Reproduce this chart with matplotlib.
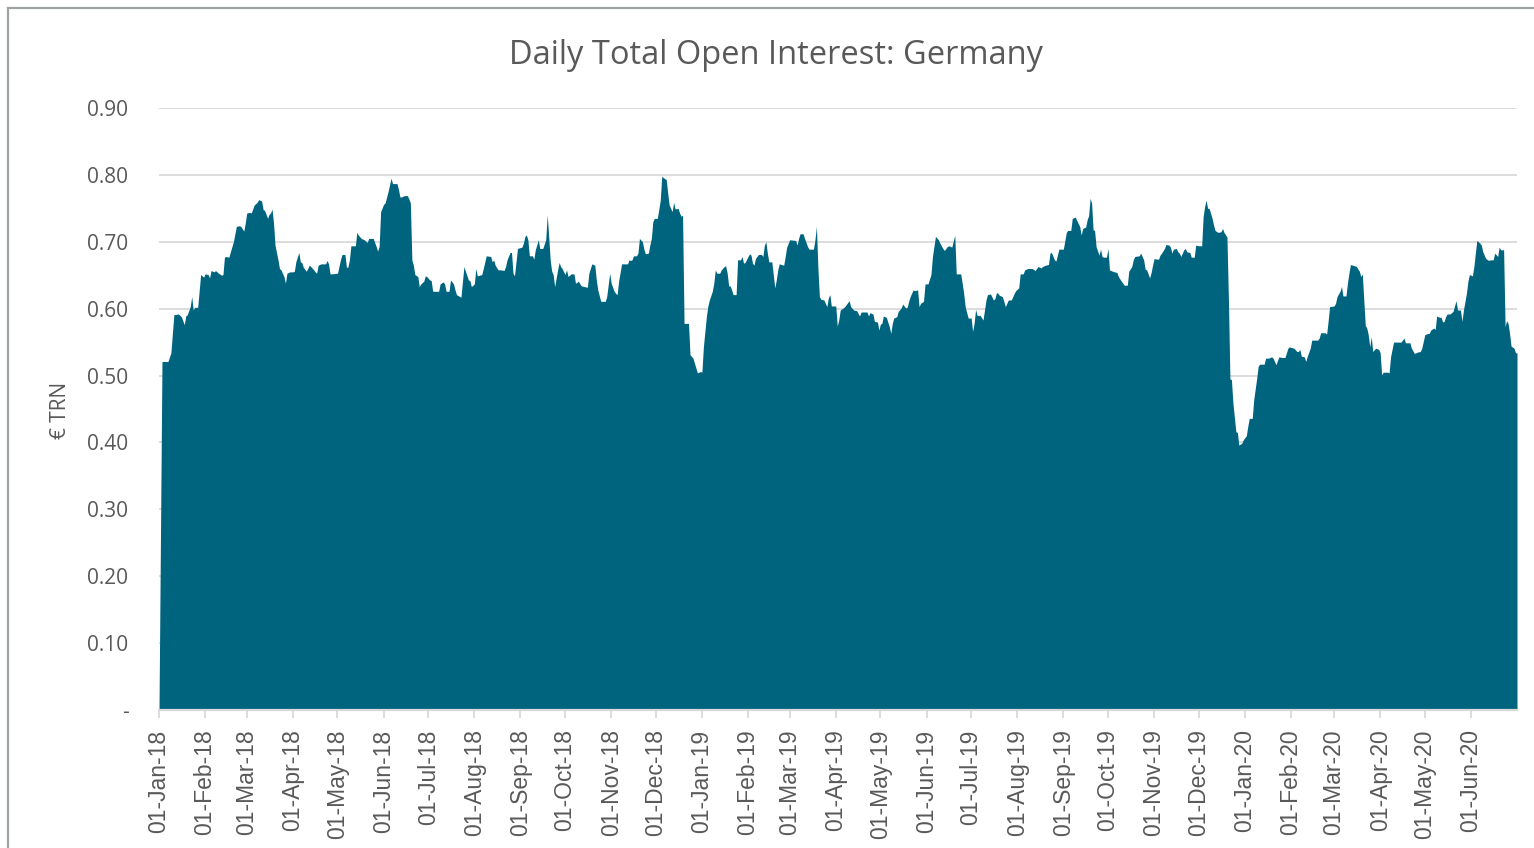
import numpy as np
import pandas as pd
import matplotlib
matplotlib.use("Agg")
import matplotlib.pyplot as plt
from matplotlib.ticker import FuncFormatter
from matplotlib.lines import Line2D

# ---------------- data (days since START_DATE, € TRN) ----------------
START_DATE = "2018-01-01"
TITLE = "Daily Total Open Interest: Germany"
Y_LABEL = "€ TRN"
Y_TICKS = [0.0, 0.1, 0.2, 0.3, 0.4, 0.5, 0.6, 0.7, 0.8, 0.9]
X_TICK_FIRST = "2018-01-01"
X_TICK_LAST = "2020-06-01"

seg_2018_a = [(0, 0.0), (2, 0.521), (6, 0.521), (8, 0.534), (9, 0.563), (10, 0.591), (13, 0.592), (15, 0.588),
              (17, 0.576), (18, 0.589), (19, 0.591), (21, 0.603), (22, 0.618), (23, 0.598), (24, 0.602), (26, 0.602),
              (28, 0.651), (30, 0.647), (31, 0.652), (33, 0.651), (34, 0.646), (35, 0.657), (37, 0.655), (38, 0.657),
              (40, 0.653), (42, 0.650), (43, 0.651), (44, 0.677), (45, 0.678), (47, 0.677), (48, 0.685), (50, 0.700),
              (52, 0.723), (54, 0.724), (55, 0.723), (57, 0.716), (58, 0.728), (59, 0.743), (61, 0.744), (62, 0.743),
              (64, 0.755), (66, 0.759), (67, 0.763), (69, 0.761), (70, 0.748), (71, 0.747), (73, 0.735), (74, 0.741),
              (75, 0.743), (76, 0.749), (77, 0.728), (78, 0.695), (80, 0.673), (81, 0.660), (82, 0.658), (84, 0.648),
              (85, 0.638), (86, 0.653), (88, 0.655), (90, 0.655), (91, 0.656), (92, 0.670), (94, 0.684), (95, 0.670),
              (96, 0.669), (97, 0.662), (99, 0.656), (100, 0.660), (101, 0.665), (102, 0.663), (104, 0.658),
              (105, 0.655), (106, 0.653), (107, 0.665), (109, 0.667), (112, 0.667), (113, 0.672), (114, 0.667),
              (115, 0.652), (116, 0.652), (120, 0.653), (121, 0.663), (122, 0.673), (123, 0.681), (125, 0.681),
              (126, 0.662), (127, 0.662), (128, 0.673), (129, 0.694), (132, 0.694), (133, 0.714), (134, 0.710),
              (136, 0.705), (138, 0.703), (140, 0.699), (141, 0.705), (144, 0.705), (146, 0.693), (147, 0.686),
              (148, 0.693), (149, 0.745), (151, 0.756)]

seg_2018_b = [(152, 0.758), (154, 0.775), (156, 0.795), (157, 0.787), (160, 0.787), (161, 0.778), (162, 0.767),
              (163, 0.767), (165, 0.769), (167, 0.769), (168, 0.764), (169, 0.758), (170, 0.673), (171, 0.665),
              (172, 0.651), (174, 0.648), (175, 0.633), (176, 0.637), (178, 0.641), (179, 0.649), (180, 0.648),
              (182, 0.643), (183, 0.642), (184, 0.626), (186, 0.626), (188, 0.626), (189, 0.637), (191, 0.640),
              (192, 0.637), (193, 0.626), (195, 0.626), (196, 0.643), (198, 0.637), (199, 0.628), (200, 0.621),
              (203, 0.617), (205, 0.663), (206, 0.656), (208, 0.643), (209, 0.642), (210, 0.633), (212, 0.637),
              (213, 0.660), (214, 0.649), (217, 0.651), (218, 0.660), (220, 0.679), (223, 0.678), (224, 0.670),
              (225, 0.673), (226, 0.665), (228, 0.658), (230, 0.658), (232, 0.657), (233, 0.663), (234, 0.673),
              (236, 0.684), (237, 0.684), (238, 0.653), (239, 0.649), (241, 0.690), (244, 0.692), (245, 0.698),
              (246, 0.708), (247, 0.710), (248, 0.703), (249, 0.679), (251, 0.679), (252, 0.674), (253, 0.688),
              (255, 0.703), (256, 0.690), (258, 0.690), (260, 0.703), (261, 0.740), (262, 0.708), (263, 0.673),
              (264, 0.656), (265, 0.651), (266, 0.633), (268, 0.658), (269, 0.669), (270, 0.663), (271, 0.660),
              (273, 0.651), (274, 0.658), (275, 0.648), (277, 0.652), (279, 0.652), (280, 0.638), (282, 0.641),
              (283, 0.637), (284, 0.634), (286, 0.633), (288, 0.632), (289, 0.653), (291, 0.667), (293, 0.665),
              (294, 0.643), (295, 0.628), (297, 0.611), (300, 0.611), (301, 0.618), (303, 0.653), (304, 0.638),
              (306, 0.626)]

seg_2018_c = [(307, 0.623), (308, 0.621), (309, 0.641), (311, 0.667), (315, 0.667), (316, 0.673), (317, 0.672),
              (318, 0.673), (319, 0.679), (321, 0.679), (322, 0.683), (323, 0.705), (325, 0.700), (326, 0.689),
              (327, 0.682), (329, 0.683), (330, 0.695), (331, 0.705), (332, 0.730), (333, 0.735), (335, 0.735),
              (336, 0.748), (337, 0.762), (338, 0.798), (339, 0.796), (341, 0.793), (342, 0.773), (343, 0.755),
              (345, 0.745), (346, 0.759), (347, 0.749), (349, 0.750), (350, 0.743), (351, 0.738), (352, 0.740),
              (353, 0.578), (356, 0.578), (357, 0.531), (359, 0.526), (361, 0.511), (362, 0.504), (364, 0.506),
              (365, 0.505), (366, 0.543), (368, 0.588), (369, 0.604), (370, 0.613), (372, 0.626), (373, 0.638),
              (374, 0.658), (375, 0.653), (377, 0.653), (378, 0.658), (380, 0.663), (381, 0.664), (382, 0.653),
              (383, 0.634), (384, 0.634), (385, 0.628), (386, 0.621), (388, 0.621), (389, 0.673), (391, 0.673),
              (392, 0.678), (393, 0.668), (394, 0.669), (396, 0.678), (397, 0.682), (398, 0.680), (399, 0.668),
              (400, 0.665), (401, 0.675), (403, 0.681), (405, 0.681), (406, 0.678), (407, 0.695), (408, 0.700),
              (409, 0.683), (410, 0.670), (412, 0.670), (414, 0.631), (415, 0.643), (416, 0.658), (417, 0.667),
              (420, 0.665), (421, 0.678), (422, 0.692), (424, 0.703), (428, 0.702), (429, 0.695), (430, 0.705),
              (431, 0.712), (433, 0.712), (434, 0.705), (436, 0.693), (437, 0.689), (440, 0.689), (441, 0.703),
              (442, 0.723), (443, 0.660), (444, 0.618), (445, 0.614), (447, 0.613), (449, 0.603), (450, 0.616),
              (451, 0.621), (452, 0.604), (455, 0.604), (456, 0.574), (457, 0.583), (458, 0.598), (460, 0.601)]

seg_2019_a = [(461, 0.603), (464, 0.612), (465, 0.603), (467, 0.598), (469, 0.597), (471, 0.589), (472, 0.595),
              (476, 0.595), (477, 0.589), (478, 0.594), (480, 0.592), (481, 0.581), (483, 0.580), (484, 0.568),
              (485, 0.577), (486, 0.578), (487, 0.589), (489, 0.587), (491, 0.573), (492, 0.563), (493, 0.578),
              (494, 0.586), (496, 0.588), (497, 0.596), (499, 0.601), (500, 0.607), (502, 0.601), (503, 0.602),
              (504, 0.611), (505, 0.618), (507, 0.628), (508, 0.627), (510, 0.628), (511, 0.603), (512, 0.608),
              (514, 0.611), (515, 0.637), (517, 0.637), (519, 0.651), (520, 0.678), (522, 0.708), (524, 0.703),
              (525, 0.698), (527, 0.690), (528, 0.687), (530, 0.693), (531, 0.694), (533, 0.692), (535, 0.710),
              (536, 0.652), (539, 0.652), (540, 0.638), (541, 0.623), (542, 0.603), (544, 0.586), (546, 0.586),
              (547, 0.566), (548, 0.578), (549, 0.599), (550, 0.590), (552, 0.590), (554, 0.583), (555, 0.598),
              (556, 0.613), (557, 0.621), (559, 0.622), (561, 0.613), (562, 0.615), (563, 0.624), (564, 0.623),
              (565, 0.620), (567, 0.618), (568, 0.611), (569, 0.603), (571, 0.613), (573, 0.613), (575, 0.623),
              (576, 0.627), (578, 0.631), (579, 0.652), (581, 0.652), (582, 0.658), (584, 0.660), (587, 0.660),
              (589, 0.657), (590, 0.660), (591, 0.663), (593, 0.661), (594, 0.663), (596, 0.665), (598, 0.666),
              (599, 0.683), (600, 0.684), (602, 0.673), (603, 0.671), (605, 0.689), (607, 0.689), (608, 0.689),
              (610, 0.714), (611, 0.717), (613, 0.717), (614, 0.735)]

seg_2019_b = [(616, 0.737), (617, 0.732), (619, 0.723), (620, 0.710), (621, 0.720), (623, 0.722), (624, 0.733),
              (625, 0.739), (626, 0.765), (627, 0.758), (628, 0.718), (629, 0.717), (630, 0.693), (632, 0.680),
              (633, 0.689), (634, 0.678), (635, 0.677), (637, 0.677), (638, 0.690), (639, 0.658), (641, 0.656),
              (644, 0.654), (645, 0.648), (647, 0.641), (649, 0.635), (651, 0.635), (652, 0.656), (654, 0.663),
              (655, 0.673), (656, 0.678), (659, 0.679), (660, 0.683), (662, 0.673), (663, 0.659), (664, 0.658),
              (666, 0.646), (667, 0.654), (668, 0.665), (669, 0.675), (671, 0.674), (672, 0.674), (673, 0.680),
              (674, 0.683), (676, 0.690), (677, 0.696), (679, 0.695), (680, 0.692), (681, 0.683), (682, 0.689),
              (684, 0.690), (685, 0.685), (686, 0.683), (687, 0.678), (689, 0.688), (690, 0.690), (691, 0.685),
              (693, 0.684), (694, 0.677), (696, 0.677), (697, 0.695), (699, 0.694), (701, 0.694), (702, 0.738),
              (703, 0.753), (704, 0.762), (705, 0.750), (706, 0.750), (708, 0.735), (709, 0.725), (710, 0.717),
              (712, 0.714), (714, 0.715), (715, 0.720), (716, 0.714), (718, 0.707), (719, 0.613), (720, 0.495),
              (721, 0.494), (722, 0.459), (724, 0.416), (725, 0.415), (726, 0.396), (728, 0.399), (729, 0.404),
              (731, 0.410), (732, 0.424), (733, 0.436), (735, 0.436), (736, 0.464), (738, 0.496), (739, 0.514),
              (740, 0.517), (743, 0.517), (744, 0.526), (746, 0.526), (748, 0.528), (749, 0.526), (751, 0.516),
              (752, 0.523), (753, 0.528), (755, 0.527), (757, 0.527), (759, 0.541), (760, 0.543)]

seg_2020 = [(761, 0.542), (763, 0.541), (765, 0.536), (766, 0.536), (767, 0.539), (768, 0.529), (770, 0.528),
            (771, 0.521), (772, 0.529), (774, 0.541), (775, 0.553), (779, 0.553), (780, 0.556), (781, 0.564),
            (784, 0.564), (785, 0.562), (786, 0.581), (787, 0.603), (790, 0.604), (791, 0.608), (792, 0.618),
            (794, 0.626), (795, 0.633), (796, 0.619), (798, 0.619), (799, 0.638), (800, 0.653), (801, 0.666),
            (804, 0.664), (805, 0.663), (807, 0.656), (808, 0.648), (809, 0.652), (810, 0.613), (811, 0.575),
            (812, 0.571), (813, 0.561), (814, 0.543), (815, 0.558), (816, 0.536), (818, 0.541), (820, 0.539),
            (821, 0.534), (822, 0.501), (823, 0.505), (826, 0.505), (827, 0.504), (828, 0.528), (830, 0.550),
            (832, 0.550), (835, 0.550), (837, 0.556), (838, 0.549), (841, 0.549), (842, 0.541), (844, 0.533),
            (845, 0.534), (846, 0.535), (848, 0.536), (849, 0.541), (851, 0.561), (853, 0.563), (854, 0.563),
            (855, 0.568), (857, 0.571), (858, 0.569), (859, 0.589), (861, 0.587), (862, 0.587), (863, 0.580),
            (864, 0.581), (865, 0.588), (866, 0.592), (868, 0.592), (870, 0.596), (871, 0.604), (872, 0.612),
            (873, 0.598), (875, 0.598), (876, 0.581), (877, 0.598), (879, 0.623), (880, 0.641), (881, 0.651),
            (883, 0.649), (884, 0.663), (885, 0.683), (886, 0.702), (888, 0.698), (889, 0.695), (890, 0.685),
            (892, 0.675), (894, 0.672), (895, 0.673), (897, 0.673), (898, 0.683), (900, 0.678), (901, 0.692),
            (902, 0.688), (904, 0.688), (905, 0.573), (906, 0.582), (907, 0.578), (908, 0.563), (909, 0.544),
            (911, 0.541), (912, 0.534), (913, 0.534)]

# ---------------- assemble ----------------
pairs = seg_2018_a + seg_2018_b + seg_2018_c + seg_2019_a + seg_2019_b + seg_2020
days = np.array([p[0] for p in pairs])
values = np.array([p[1] for p in pairs])
dates = pd.Timestamp(START_DATE) + pd.to_timedelta(days, unit="D")
month_ticks = pd.date_range(X_TICK_FIRST, X_TICK_LAST, freq="MS")

W, H = 1534, 848
FILL = "#00647F"
TEXT = "#595959"
GRID = "#d9d9d9"

fig = plt.figure(figsize=(W / 100, H / 100), dpi=100)
ax = fig.add_axes([159 / W, 1 - 710 / H, (1517 - 159) / W, (710 - 108) / H])

ax.fill_between(dates, values, 0, color=FILL, linewidth=0, zorder=2)
ax.set_ylim(0, 0.9)
ax.set_xlim(dates[0], dates[-1])

ax.set_yticks(Y_TICKS)
ax.yaxis.set_major_formatter(FuncFormatter(lambda v, p: "-" if abs(v) < 1e-9 else f"{v:.2f}"))
ax.grid(axis="y", color=GRID, linewidth=1.3, zorder=0)
ax.set_axisbelow(True)

for s in ["top", "right", "left"]:
    ax.spines[s].set_visible(False)
ax.spines["bottom"].set_color(GRID)
ax.spines["bottom"].set_linewidth(1.6)
ax.spines["bottom"].set_zorder(3)

ax.set_xticks(month_ticks)
ax.set_xticklabels([d.strftime("%d-%b-%y") for d in month_ticks])

ax.tick_params(axis="y", length=0, pad=22, labelsize=15, labelcolor=TEXT, labelfontfamily="Open Sans")
ax.tick_params(axis="x", length=6, width=1.3, color=GRID, pad=8, labelsize=16.5, labelcolor=TEXT,
               labelrotation=90, labelfontfamily="Liberation Sans")

fig.text(776 / W, 1 - 55 / H, TITLE, ha="center", va="center", fontsize=23.5, color=TEXT, family="Open Sans")
fig.text(60 / W, 1 - 410 / H, Y_LABEL, rotation=90, ha="center", va="center", fontsize=15, color=TEXT,
         family="Open Sans")

# outer chart frame (left and top edges visible in the crop)
frame_col = "#9ea3a6"
fig.add_artist(Line2D([8 / W, 8 / W], [0, 1 - 8 / H], transform=fig.transFigure, color=frame_col, lw=1.6))
fig.add_artist(Line2D([8 / W, 1], [1 - 8 / H, 1 - 8 / H], transform=fig.transFigure, color=frame_col, lw=1.6))

fig.savefig("out.png", dpi=100)
